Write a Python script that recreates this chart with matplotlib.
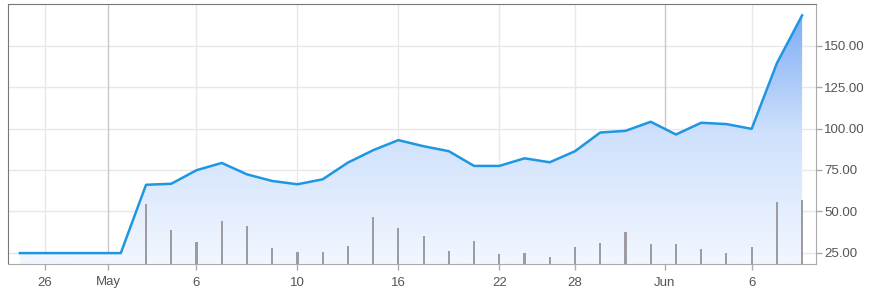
import numpy as np
import matplotlib.pyplot as plt
from matplotlib.colors import LinearSegmentedColormap

# trading-day index (0 = 2 May), flat pre-listing stretch before that
days = np.arange(-5, 27)
price = [24.7, 24.7, 24.7, 24.7, 24.7,
         66.0, 66.6, 74.8, 79.2, 72.3, 68.3, 66.3, 69.3, 79.4, 86.9,
         93.0, 89.3, 86.3, 77.4, 77.4, 82.0, 79.6, 86.3, 97.6, 98.6,
         104.1, 96.4, 103.5, 102.7, 99.8, 139.5, 168.4]
vol_days = np.arange(0, 27)
volume = [6.0, 3.4, 2.23, 4.3, 3.8, 1.57, 1.23, 1.23, 1.8, 4.73,
          3.57, 2.8, 1.33, 2.33, 1.0, 1.13, 0.73, 1.67, 2.13, 3.17,
          2.03, 2.03, 1.47, 1.13, 1.67, 6.2, 6.43]

tick_pos = [-4, -1.5, 2, 6, 10, 14, 17, 20.55, 24]
tick_labels = ["26", "May", "6", "10", "16", "22", "28", "Jun", "6"]
month_ticks = ["May", "Jun"]
price_ticks = [25, 50, 75, 100, 125, 150]

xmin, xmax = -5.47, 26.55
ymin, ymax = 18.1, 175.3

plt.rcParams['font.family'] = ['Liberation Sans', 'DejaVu Sans']

fig = plt.figure(figsize=(8.69, 2.92), dpi=100)
ax = fig.add_axes([8 / 869, 28 / 292, 808 / 869, 260 / 292])
ax.set_xlim(xmin, xmax)
ax.set_ylim(ymin, ymax)

# volume bars on their own scale
ax2 = ax.twinx()
ax2.set_ylim(0, 25.97)
ax2.bar(vol_days, volume, width=0.085, color="#9c9ca2", zorder=3)
ax2.yaxis.set_visible(False)
for s in ax2.spines.values():
    s.set_visible(False)

# gradient area under the line
cmap = LinearSegmentedColormap.from_list("fill", ["#f2f7ff", "#cfe1fc", "#78a9f5"])
grad = np.linspace(0, 1, 256).reshape(-1, 1)
poly = ax.fill_between(days, price, ymin, facecolor="none", edgecolor="none")
img = ax.imshow(grad, extent=[xmin, xmax, ymin, ymax], origin="lower",
                aspect="auto", cmap=cmap, zorder=1)
img.set_clip_path(poly.get_paths()[0], transform=ax.transData)

ax.plot(days, price, color="#1f96e2", lw=1.8, zorder=4, solid_joinstyle="round")

# grid
for y in price_ticks:
    ax.axhline(y, color="#e8e8e8", lw=1, zorder=0.5)
for p, lab in zip(tick_pos, tick_labels):
    c = "#c8c8c8" if lab in month_ticks else "#e8e8e8"
    ax.axvline(p, color=c, lw=1, zorder=0.5)

ax.set_xticks(tick_pos)
ax.set_xticklabels(tick_labels)
ax.yaxis.tick_right()
ax.yaxis.set_label_position("right")
ax.set_yticks(price_ticks)
ax.set_yticklabels([f"{v:.2f}" for v in price_ticks])
ax.tick_params(axis="both", colors="#aaaaaa", labelcolor="#555555",
               labelsize=9.5, length=4, width=1)
ax.tick_params(axis="x", pad=5)
ax.tick_params(axis="y", pad=2, left=False, labelleft=False,
               right=True, labelright=True)

for side in ["left", "top"]:
    ax.spines[side].set_color("#777777")
for side in ["right", "bottom"]:
    ax.spines[side].set_color("#aaaaaa")

fig.savefig("out.png", dpi=100)
